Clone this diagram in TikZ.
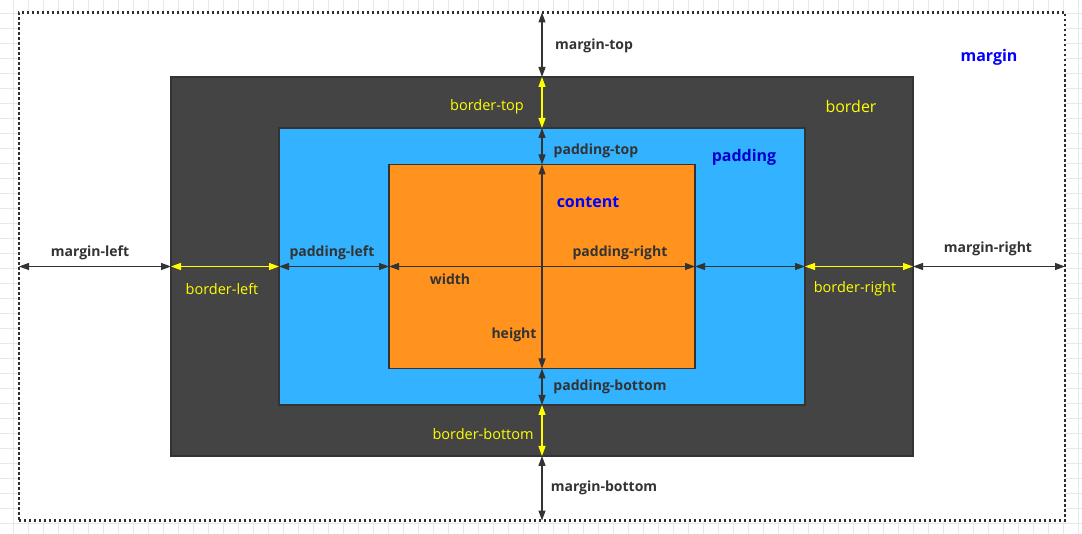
\documentclass[tikz,border=0pt]{standalone}
\usepackage{fontspec}
\setmainfont{Open Sans}
\usetikzlibrary{arrows.meta}
\definecolor{Trazo}{HTML}{333333}
\definecolor{Borde}{HTML}{444444}
\definecolor{Relleno}{HTML}{33B2FF}
\definecolor{Contenido}{HTML}{FF931E}
\definecolor{Amarillo}{HTML}{FFFF00}
\definecolor{Azul}{HTML}{0000FF}
\definecolor{Rejilla}{HTML}{E8E8E8}

\begin{document}
\begin{tikzpicture}[
  x=1pt, y=-1pt,
  capa/.style={rectangle, inner sep=0pt, outer sep=0pt, draw=Trazo, line width=1.6pt},
  margen/.style={rectangle, inner sep=0pt, outer sep=0pt, draw=Trazo!90!black,
    line width=2.2pt, dash pattern=on 2.2pt off 2.8pt, fill=white},
  cota/.style={{Triangle[length=10pt,width=7pt]}-{Triangle[length=10pt,width=7pt]},
    line width=1.2pt, color=Trazo},
  cotaam/.style={cota, color=Amarillo},
  lbl/.style={font=\fontsize{14}{16}\selectfont\bfseries, text=Trazo, inner sep=1pt},
  lblam/.style={font=\fontsize{14.5}{17}\selectfont, text=Amarillo, inner sep=1pt},
  tit/.style={font=\fontsize{16}{19}\selectfont\bfseries, text=Azul, inner sep=1pt}
]
\useasboundingbox (0,0) rectangle (1082,534);

%% rejilla de fondo
\foreach \gx in {13,28,...,1078} \draw[Rejilla, line width=0.8pt] (\gx,0) -- (\gx,534);
\foreach \gy in {13,28,...,530} \draw[Rejilla, line width=0.8pt] (0,\gy) -- (1082,\gy);

%% cajas
\node[margen, minimum width=1046pt, minimum height=508pt] (MAR) at (542,266.5) {};
\node[capa, fill=Borde, minimum width=742pt, minimum height=379pt] (BOR) at (542,266.5) {};
\node[capa, fill=Relleno, minimum width=526pt, minimum height=277pt] (PAD) at (542,266.5) {};
\node[capa, fill=Contenido, minimum width=306pt, minimum height=204pt] (CON) at (542,266.5) {};

%% titulos
\node[tit] (tMAR) at (989,57) {margin};
\node[lblam, font=\fontsize{16}{19}\selectfont] (tBOR) at (851,107) {border};
\node[tit, text=Azul!80!black] (tPAD) at (744,157) {padding};
\node[tit] (tCON) at (588,202) {content};

%% cotas verticales
\draw[cota]   (MAR.north) -- (BOR.north);
\draw[cotaam] (BOR.north) -- (PAD.north);
\draw[cota]   (PAD.north) -- (CON.north);
\draw[cota]   (CON.north) -- (CON.south);
\draw[cota]   (CON.south) -- (PAD.south);
\draw[cotaam] (PAD.south) -- (BOR.south);
\draw[cota]   (BOR.south) -- (MAR.south);

%% cotas horizontales
\draw[cota]   (MAR.west) -- (BOR.west);
\draw[cotaam] (BOR.west) -- (PAD.west);
\draw[cota]   (PAD.west) -- (CON.west);
\draw[cota]   (CON.west) -- (CON.east);
\draw[cota]   (CON.east) -- (PAD.east);
\draw[cotaam] (PAD.east) -- (BOR.east);
\draw[cota]   (BOR.east) -- (MAR.east);

%% etiquetas
\node[lbl]   (eMT) at (594,46)  {margin-top};
\node[lblam] (eBT) at (487,107) {border-top};
\node[lbl]   (ePT) at (596,151) {padding-top};
\node[lbl]   (eML) at (90,253)  {margin-left};
\node[lblam] (eBL) at (222,289) {border-left};
\node[lbl]   (ePL) at (332,253) {padding-left};
\node[lbl]   (eW)  at (450,279) {width};
\node[lbl]   (ePR) at (620,253) {padding-right};
\node[lbl]   (eMR) at (988,249) {margin-right};
\node[lblam] (eBR) at (855,289) {border-right};
\node[lbl]   (eH)  at (514,335) {height};
\node[lbl]   (ePB) at (610,387) {padding-bottom};
\node[lblam] (eBB) at (483,434) {border-bottom};
\node[lbl]   (eMB) at (604,488) {margin-bottom};

\end{tikzpicture}
\end{document}
